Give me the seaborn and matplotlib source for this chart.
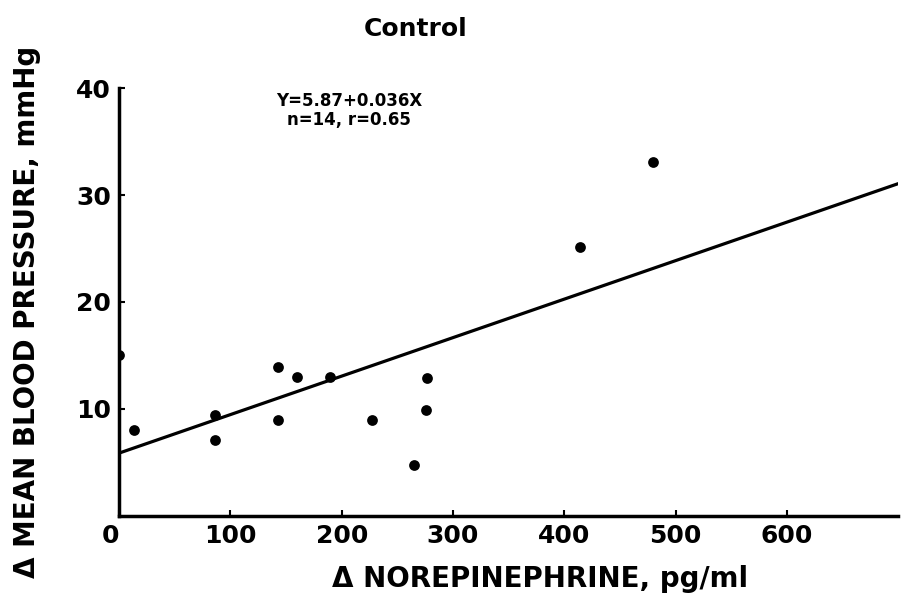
import matplotlib
matplotlib.use('Agg')
import matplotlib.pyplot as plt
import pandas as pd
import seaborn as sns

# Data
norepinephrine = [0, 13, 86, 86, 143, 143, 160, 189, 227, 265, 276, 277, 414, 480]
blood_pressure = [15.0, 8.0, 9.4, 7.1, 13.9, 9.0, 13.0, 13.0, 9.0, 4.8, 9.9, 12.9, 25.1, 33.1]
x_ticks = [0, 100, 200, 300, 400, 500, 600]
y_ticks = [10, 20, 30, 40]
intercept = 5.87
slope = 0.036
fit_x = [0, 700]

df = pd.DataFrame({'ne': norepinephrine, 'bp': blood_pressure})
df_fit = pd.DataFrame({'ne': fit_x, 'bp': [intercept + slope * v for v in fit_x]})

sns.set_style('ticks')
plt.rcParams['font.family'] = ['DejaVu Sans']
plt.rcParams['font.weight'] = 'bold'
for key in ['text.color', 'axes.labelcolor', 'xtick.color', 'ytick.color', 'axes.edgecolor']:
    plt.rcParams[key] = 'black'

fig = plt.figure(figsize=(9.1, 6.04), dpi=100)
ax = fig.add_axes([0.131, 0.146, 0.856, 0.708])

# regression line
sns.lineplot(data=df_fit, x='ne', y='bp', ax=ax, color='black', linewidth=2.3)
# points
sns.scatterplot(data=df, x='ne', y='bp', ax=ax, color='black', s=60,
                edgecolor='black', linewidth=0, zorder=3)

ax.set_xlim(0, 700)
ax.set_ylim(0, 40)
ax.set_xticks(x_ticks)
ax.set_yticks(y_ticks)
ax.tick_params(direction='in', length=4, width=1.5, labelsize=18, pad=6)
for lab in ax.get_xticklabels() + ax.get_yticklabels():
    lab.set_fontweight('bold')
ax.get_xticklabels()[0].set_horizontalalignment('right')

for side in ['top', 'right']:
    ax.spines[side].set_visible(False)
for side in ['left', 'bottom']:
    ax.spines[side].set_linewidth(2.5)

ax.set_xlabel('\u0394 NOREPINEPHRINE, pg/ml', fontsize=20, fontweight='bold')
ax.set_ylabel('\u0394 MEAN BLOOD PRESSURE, mmHg', fontsize=20, fontweight='bold')
ax.xaxis.set_label_coords(0.54, -0.115)
ax.yaxis.set_label_coords(-0.1, 0.477)

ax.text(0.295, 0.97, 'Y=5.87+0.036X', transform=ax.transAxes, ha='center',
        va='center', fontsize=12, fontweight='bold')
ax.text(0.295, 0.925, 'n=14, r=0.65', transform=ax.transAxes, ha='center',
        va='center', fontsize=12, fontweight='bold')

fig.text(0.457, 0.952, 'Control', ha='center', va='center', fontsize=18,
         fontweight='bold')

fig.savefig('out.png', dpi=100)
